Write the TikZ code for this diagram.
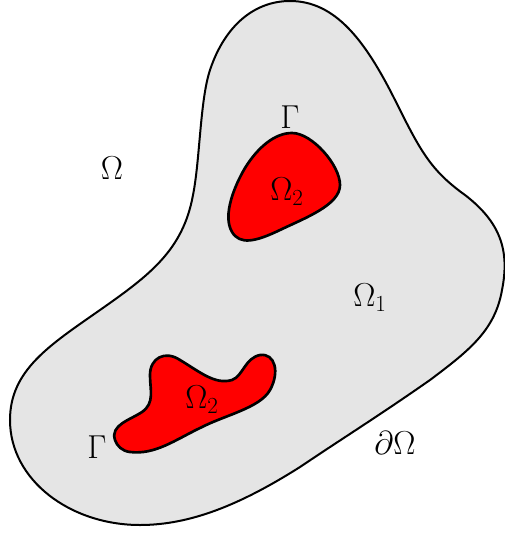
\documentclass[tikz,border=0pt]{standalone}
\usepackage{amsmath}
\begin{document}
\begin{tikzpicture}[x=0.75pt,y=-0.75pt,
  outer/.style={draw=black,line width=1.5pt,fill=gray!20},
  inner/.style={draw=black,line width=2pt,fill=red},
  lbl/.style={font=\fontsize{24}{28}\selectfont,inner sep=0pt}]
\useasboundingbox (0,0) rectangle (504,534);
\draw[outer] (290,1) .. controls (335,1) and (365,40) .. (395,100)
  .. controls (420,150) and (430,170) .. (465,195)
  .. controls (500,222) and (510,250) .. (502,290)
  .. controls (495,330) and (470,350) .. (430,380)
  .. controls (380,415) and (340,440) .. (300,467)
  .. controls (240,505) and (190,525) .. (140,525)
  .. controls (70,525) and (10,480) .. (10,420)
  .. controls (10,370) and (50,345) .. (100,310)
  .. controls (150,275) and (183,250) .. (193,195)
  .. controls (200,160) and (200,100) .. (210,70)
  .. controls (225,25) and (255,1) .. (290,1) -- cycle;
\draw[inner] (292,133) .. controls (312,133) and (340,165) .. (340,185)
  .. controls (340,205) and (305,218) .. (280,230)
  .. controls (255,242) and (240,245) .. (232,232)
  .. controls (222,215) and (235,185) .. (245,168)
  .. controls (258,147) and (275,133) .. (292,133) -- cycle;
\draw[inner] (115,440) .. controls (110,425) and (130,420) .. (142,412)
  .. controls (155,403) and (150,390) .. (150,375)
  .. controls (150,358) and (165,350) .. (180,360)
  .. controls (200,372) and (215,385) .. (232,380)
  .. controls (243,376) and (245,358) .. (260,355)
  .. controls (275,353) and (280,372) .. (270,390)
  .. controls (260,408) and (225,415) .. (200,428)
  .. controls (175,440) and (155,455) .. (130,452)
  .. controls (122,451) and (117,446) .. (115,440) -- cycle;
\node[lbl] (om) at (112,168) {$\Omega$};
\node[lbl] (g1) at (290,117) {$\Gamma$};
\node[lbl] (o2a) at (287,192) {$\Omega_2$};
\node[lbl] (o1) at (370,298) {$\Omega_1$};
\node[lbl] (o2b) at (202,400) {$\Omega_2$};
\node[lbl] (g2) at (97,447) {$\Gamma$};
\node[lbl] (bd) at (395,443) {$\partial\Omega$};
\end{tikzpicture}
\end{document}
